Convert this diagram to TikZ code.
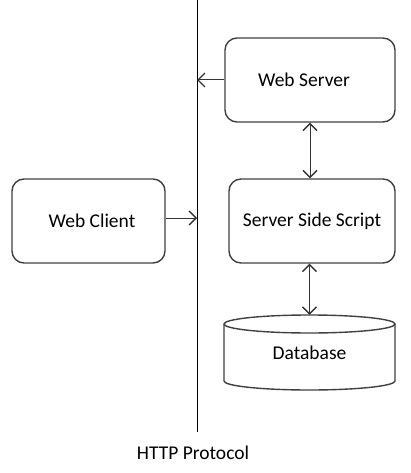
\documentclass[tikz,border=0pt]{standalone}
\usepackage{fontspec}
\setmainfont{Carlito}
\usetikzlibrary{arrows.meta}
\begin{document}
\begin{tikzpicture}[x=1pt,y=-1pt,
  box/.style={draw=black!75, line width=1.4pt, rounded corners=12pt, font=\fontsize{19.5}{22}\selectfont, inner sep=0pt},
  lbl/.style={font=\fontsize{19.5}{22}\selectfont, inner sep=0pt},
  arr/.style={draw=black!80, line width=1pt, -{Straight Barb[length=7pt,width=14pt,line width=1.4pt]}},
  arrs/.style={draw=black!80, line width=1pt, {Straight Barb[length=7pt,width=14pt,line width=1.4pt]}-{Straight Barb[length=7pt,width=14pt,line width=1.4pt]}},
  dbline/.style={draw=black!75, line width=1.4pt}]
\useasboundingbox (0,0) rectangle (411,473);
\coordinate (ltop) at (197,0);
\coordinate (lbot) at (197,432);
\draw[black, line width=1pt] (ltop) -- (lbot);
\node[box, minimum width=170pt, minimum height=84pt] (ws) at (310,80) {\hspace*{-12pt}Web Server};
\node[box, minimum width=166pt, minimum height=84pt] (sss) at (312,221) {Server Side Script};
\node[box, minimum width=153pt, minimum height=84pt] (wc) at (88.5,221) {\hspace*{7pt}Web Client};
\node[lbl, minimum width=171pt, minimum height=75pt] (db) at (309.5,352.5) {\raisebox{-5.5pt}{Database}};
\draw[dbline] (224,324) -- (224,381) arc[start angle=180, end angle=360, x radius=85.5, y radius=-9] -- (395,324);
\draw[dbline] (309.5,324) ellipse[x radius=85.5, y radius=9];
\node[lbl] (http) at (193,453) {HTTP Protocol};
\draw[arr] (ws.west) -- (ws.west -| ltop);
\draw[arr] (wc.east |- 0,218) -- (ltop |- 0,218);
\draw[arrs] (ws.south) -- (ws.south |- sss.north);
\draw[arrs] (db.north) -- (db.north |- sss.south);
\end{tikzpicture}
\end{document}
